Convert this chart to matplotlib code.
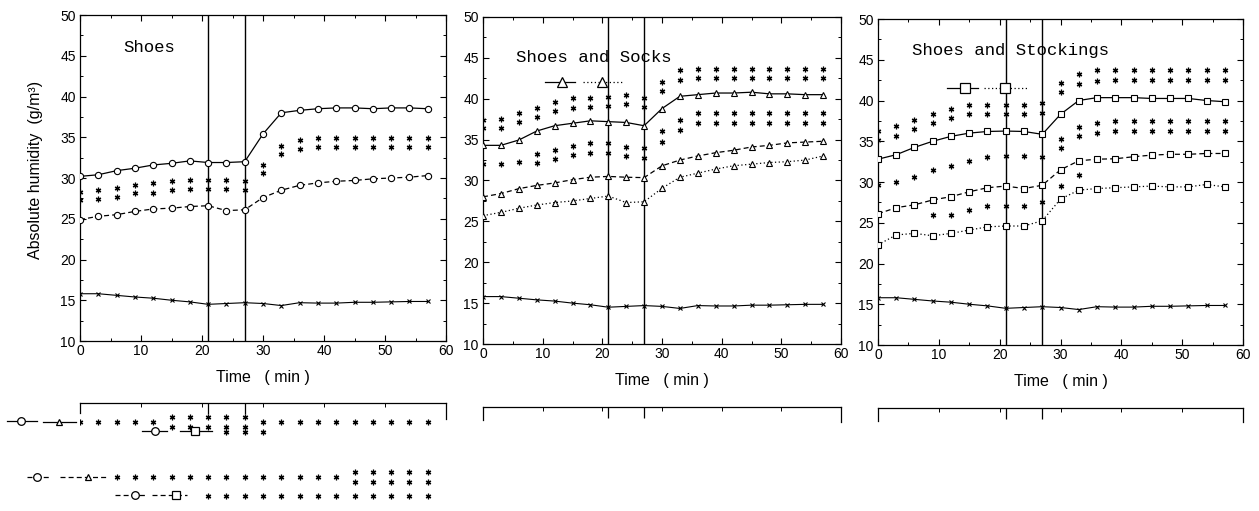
import numpy as np
import matplotlib
matplotlib.use("Agg")
import matplotlib.pyplot as plt
from matplotlib.ticker import MultipleLocator

nan = np.nan

# ---------------- data ----------------
time_min = [0, 3, 6, 9, 12, 15, 18, 21, 24, 27, 30, 33, 36, 39, 42, 45, 48, 51, 54, 57]
event_times = [21, 27]

ambient = [15.8, 15.8, 15.6, 15.4, 15.25, 15.0, 14.8, 14.5, 14.6, 14.7,
           14.6, 14.35, 14.7, 14.65, 14.65, 14.75, 14.75, 14.8, 14.85, 14.85]

# Panel 1: Shoes
shoes_solid = [30.2, 30.4, 30.9, 31.2, 31.6, 31.8, 32.1, 31.9, 31.9, 32.0,
               35.4, 38.0, 38.3, 38.5, 38.6, 38.6, 38.5, 38.6, 38.6, 38.5]
shoes_dashed = [24.9, 25.3, 25.5, 25.9, 26.2, 26.3, 26.5, 26.6, 26.0, 26.1,
                27.6, 28.5, 29.1, 29.4, 29.6, 29.7, 29.9, 30.0, 30.1, 30.3]
shoes_star_hi = [28.3, 28.5, 28.8, 29.2, 29.4, 29.6, 29.8, 29.8, 29.8, 29.6,
                 31.6, 33.9, 34.7, 34.9, 34.9, 34.9, 34.9, 34.9, 34.9, 34.9]
shoes_star_lo = [27.3, 27.4, 27.7, 28.1, 28.1, 28.5, 28.7, 28.7, 28.7, 28.55,
                 30.6, 32.9, 33.5, 33.8, 33.8, 33.8, 33.8, 33.8, 33.8, 33.8]

# Panel 2: Shoes and Socks
socks_solid = [34.3, 34.3, 34.95, 36.05, 36.7, 37.0, 37.3, 37.2, 37.1, 36.7,
               38.8, 40.3, 40.5, 40.7, 40.7, 40.8, 40.6, 40.6, 40.5, 40.5]
socks_dashed = [28.0, 28.4, 29.0, 29.4, 29.7, 30.1, 30.4, 30.5, 30.4, 30.35,
                31.8, 32.5, 33.0, 33.4, 33.7, 34.1, 34.3, 34.6, 34.7, 34.8]
socks_dotted = [25.7, 26.1, 26.6, 27.0, 27.3, 27.5, 27.8, 28.1, 27.3, 27.4,
                29.05, 30.4, 30.9, 31.4, 31.8, 32.0, 32.2, 32.3, 32.5, 33.0]
socks_star_up_hi = [37.4, 37.5, 38.2, 38.9, 39.6, 40.05, 40.1, 40.2, 40.5, 40.05,
                    42.0, 43.5, 43.6, 43.6, 43.6, 43.6, 43.6, 43.6, 43.6, 43.6]
socks_star_up_lo = [36.4, 36.4, 37.1, 37.8, 38.5, 38.9, 39.0, 39.1, 39.3, 39.0,
                    40.9, 42.3, 42.5, 42.5, 42.5, 42.5, 42.5, 42.5, 42.5, 42.5]
socks_star_mid_hi = [nan, nan, nan, 33.2, 33.7, 34.2, 34.6, 34.55, 34.1, 34.0,
                     36.0, 37.4, 38.2, 38.2, 38.2, 38.2, 38.2, 38.2, 38.2, 38.2]
socks_star_mid_lo = [32.0, 32.0, 32.3, 32.2, 32.6, 33.1, 33.4, 33.4, 33.0, 32.8,
                     34.75, 36.2, 37.0, 37.0, 37.0, 37.0, 37.0, 37.0, 37.0, 37.0]

# Panel 3: Shoes and Stockings
stock_solid = [32.8, 33.35, 34.25, 35.0, 35.6, 36.0, 36.2, 36.25, 36.2, 35.85,
               38.3, 40.0, 40.35, 40.35, 40.35, 40.25, 40.25, 40.25, 40.0, 39.85]
stock_dashed = [26.1, 26.85, 27.2, 27.8, 28.2, 28.8, 29.3, 29.5, 29.2, 29.6,
                31.5, 32.6, 32.8, 32.85, 33.1, 33.3, 33.4, 33.4, 33.5, 33.5]
stock_dotted = [22.3, 23.5, 23.7, 23.4, 23.7, 24.1, 24.5, 24.6, 24.6, 25.25,
                27.9, 29.0, 29.2, 29.3, 29.4, 29.5, 29.4, 29.4, 29.7, 29.4]
stock_star_up_hi = [36.3, 36.9, 37.6, 38.4, 39.0, 39.5, 39.5, 39.5, 39.5, 39.7,
                    42.2, 43.3, 43.7, 43.7, 43.7, 43.7, 43.7, 43.7, 43.7, 43.7]
stock_star_up_lo = [35.2, 35.7, 36.5, 37.3, 37.8, 38.3, 38.3, 38.3, 38.3, 38.5,
                    41.1, 42.0, 42.4, 42.5, 42.5, 42.5, 42.5, 42.5, 42.5, 42.5]
stock_star_mid_hi = [nan, nan, nan, nan, nan, nan, nan, nan, nan, nan,
                     35.3, 36.8, 37.2, 37.5, 37.5, 37.5, 37.5, 37.5, 37.5, 37.5]
stock_star_mid_lo = [29.6, 30.0, 30.65, 31.5, 32.0, 32.6, 33.1, 33.2, 33.2, 33.1,
                     34.2, 35.6, 36.0, 36.3, 36.3, 36.3, 36.3, 36.3, 36.3, 36.3]
stock_star_low = [nan, nan, nan, 25.9, 26.0, 26.6, 27.1, 27.1, 27.1, 27.6,
                  29.5, 30.9, nan, nan, nan, nan, nan, nan, nan, nan]

# Significance rows below panel 1 (number of asterisks per time point)
sig_solid_circle_vs_triangle = [1, 1, 1, 1, 1, 2, 2, 2, 2, 2, 1, 1, 1, 1, 1, 1, 1, 1, 1, 1]
sig_solid_circle_vs_square = [0, 0, 0, 0, 0, 0, 0, 0, 1, 1, 1, 0, 0, 0, 0, 0, 0, 0, 0, 0]
sig_dashed_circle_vs_triangle = [0, 0, 1, 1, 1, 1, 1, 1, 1, 1, 1, 1, 1, 1, 1, 2, 2, 2, 2, 2]
sig_dashed_circle_vs_square = [0, 0, 0, 0, 0, 0, 0, 1, 1, 1, 1, 1, 1, 1, 1, 1, 1, 1, 1, 1]

panel_titles = ["Shoes", "Shoes and Socks", "Shoes and Stockings"]
x_label = "Time   ( min )"
y_label = "Absolute humidity  (g/m\u00b3)"
x_ticks = [0, 10, 20, 30, 40, 50, 60]
y_ticks = [10, 15, 20, 25, 30, 35, 40, 45, 50]

# ---------------- style ----------------
W, H = 1259, 511
fig = plt.figure(figsize=(W / 100, H / 100), dpi=100)
SANS = ["Liberation Sans", "DejaVu Sans"]
MONO = ["Liberation Mono", "DejaVu Sans Mono"]

LS = {"solid": "-", "dashed": (0, (4, 2.5)), "dotted": (0, (1, 2))}
STAR = dict(marker=(6, 2, 0), ms=4, mew=0.9, color="black", ls="none", zorder=4)


def add_px_axes(l, t, r, b):
    return fig.add_axes([l / W, 1 - b / H, (r - l) / W, (b - t) / H])


def series(ax, y, marker, style, ms=4.5):
    ax.plot(time_min, y, color="black", lw=0.9, ls=LS[style], marker=marker,
            ms=ms, mfc="white", mec="black", mew=0.8, zorder=3)


def stars(ax, *rows):
    for r in rows:
        ax.plot(time_min, r, **STAR)


def key(ax, x0, x1, xm, y, marker, style, ms, transform=None):
    tr = transform if transform is not None else ax.transData
    ax.plot([x0, x1], [y, y], color="black", lw=0.9, ls=LS[style],
            transform=tr, clip_on=False, zorder=5)
    ax.plot([xm], [y], marker=marker, ms=ms, mfc="white", mec="black",
            mew=0.9, ls="none", transform=tr, clip_on=False, zorder=6)


boxes = [(80, 15, 446, 341), (483, 17, 841, 344), (878, 19, 1243, 345)]
title_pos = [(0.117, 0.90), (0.092, 0.875), (0.092, 0.902)]
axes = []
for i, (l, t, r, b) in enumerate(boxes):
    ax = add_px_axes(l, t, r, b)
    axes.append(ax)
    ax.set_xlim(0, 60)
    ax.set_ylim(10, 50)
    ax.set_xticks(x_ticks)
    ax.set_yticks(y_ticks)
    ax.xaxis.set_minor_locator(MultipleLocator(5))
    ax.yaxis.set_minor_locator(MultipleLocator(2.5))
    ax.tick_params(which="major", direction="in", top=True, right=True,
                   length=4, width=0.8, labelsize=10)
    ax.tick_params(which="minor", direction="in", top=True, right=True,
                   length=2.5, width=0.7)
    ax.tick_params(axis="x", pad=2)
    ax.tick_params(axis="y", pad=3)
    for lab in ax.get_xticklabels() + ax.get_yticklabels():
        lab.set_family(SANS)
    for sp in ax.spines.values():
        sp.set_linewidth(0.9)
        sp.set_zorder(2.5)
    for et in event_times:
        ax.axvline(et, color="black", lw=1.0, zorder=2)
    ax.plot(time_min, ambient, color="black", lw=0.8, marker="x", ms=3,
            mew=0.8, zorder=3)
    ax.text(title_pos[i][0], title_pos[i][1], panel_titles[i],
            transform=ax.transAxes, family=MONO, fontsize=12.5,
            ha="left", va="center")
    ax.set_xlabel(x_label, family=SANS, fontsize=11.5)
    ax.xaxis.set_label_coords(0.5, -0.088)

# Panel 1
ax = axes[0]
series(ax, shoes_solid, "o", "solid")
series(ax, shoes_dashed, "o", "dashed")
stars(ax, shoes_star_hi, shoes_star_lo)
ax.set_ylabel(y_label, family=SANS, fontsize=11.5)
ax.yaxis.set_label_coords(-0.101, 0.525)

# Panel 2
ax = axes[1]
series(ax, socks_solid, "^", "solid")
series(ax, socks_dashed, "^", "dashed")
series(ax, socks_dotted, "^", "dotted")
stars(ax, socks_star_up_hi, socks_star_up_lo, socks_star_mid_hi, socks_star_mid_lo)
key(ax, 0.173, 0.257, 0.22, 0.80, "^", "solid", 6.5, transform=ax.transAxes)
key(ax, 0.279, 0.387, 0.332, 0.80, "^", "dotted", 6.5, transform=ax.transAxes)

# Panel 3
ax = axes[2]
series(ax, stock_solid, "s", "solid")
series(ax, stock_dashed, "s", "dashed")
series(ax, stock_dotted, "s", "dotted")
stars(ax, stock_star_up_hi, stock_star_up_lo, stock_star_mid_hi,
      stock_star_mid_lo, stock_star_low)
key(ax, 0.188, 0.274, 0.237, 0.787, "s", "solid", 7, transform=ax.transAxes)
key(ax, 0.29, 0.411, 0.348, 0.787, "s", "dotted", 7, transform=ax.transAxes)

# ---------------- brackets below panels ----------------
bracket_geo = [
    # (top_px, bottom_px_of_axes, left_drop, right_drop)
    (403, 505, 10, 16),
    (407, 425, 13, 15),
    (408, 425, 13, 14),
]
low_axes = []
for i, (l, t, r, b) in enumerate(boxes):
    top, bot, ldrop, rdrop = bracket_geo[i]
    bx = add_px_axes(l, top, r, bot)
    low_axes.append(bx)
    bx.set_xlim(0, 60)
    bx.set_ylim(bot - top, 0)
    bx.patch.set_visible(False)
    bx.spines["bottom"].set_visible(False)
    bx.spines["left"].set_bounds(0, ldrop)
    bx.spines["right"].set_bounds(0, rdrop)
    for sp in bx.spines.values():
        sp.set_linewidth(0.9)
    bx.set_yticks([])
    bx.xaxis.set_ticks_position("top")
    bx.set_xticks(event_times)
    bx.set_xticks([10, 20, 30, 40, 50], minor=True)
    bx.tick_params(which="major", direction="in", length=8, width=0.9,
                   labeltop=False, labelbottom=False)
    bx.tick_params(which="minor", direction="in", length=3, width=0.7)

bx = low_axes[0]
sig_rows = [
    (sig_solid_circle_vs_triangle, 19),
    (sig_solid_circle_vs_square, 29),
    (sig_dashed_circle_vs_triangle, 74),
    (sig_dashed_circle_vs_square, 93),
]
for counts, yc in sig_rows:
    xs, ys = [], []
    for tt, n in zip(time_min, counts):
        if n == 1:
            xs.append(tt); ys.append(yc)
        elif n == 2:
            xs += [tt, tt]; ys += [yc - 5, yc + 5]
    bx.plot(xs, ys, **STAR)

# keys for the significance rows
key(bx, -12.0, -7.1, -9.6, 18, "o", "solid", 5.5)
key(bx, -6.0, -0.6, -3.4, 19, "^", "solid", 5)
key(bx, 10.1, 14.2, 12.3, 28, "o", "solid", 5.5)
key(bx, 16.4, 21.6, 18.85, 28, "s", "solid", 6)
key(bx, -8.7, -4.9, -7.1, 74, "o", "dashed", 5.5)
key(bx, -3.3, 4.4, 1.36, 74, "^", "dashed", 5)
key(bx, 5.7, 10.9, 9.0, 92, "o", "dashed", 5.5)
key(bx, 11.75, 17.5, 15.7, 92, "s", "dashed", 6)

fig.savefig("out.png", dpi=100)
